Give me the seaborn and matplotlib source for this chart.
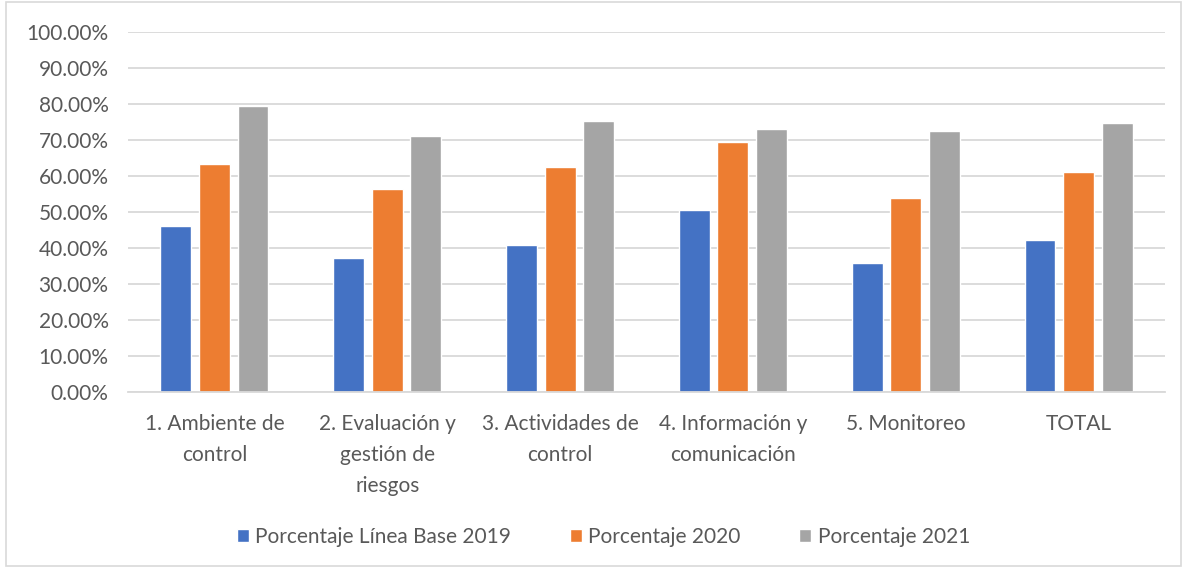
import matplotlib
matplotlib.use("Agg")
import matplotlib.pyplot as plt
import matplotlib.patches as mpatches
from matplotlib.ticker import FuncFormatter
import seaborn as sns
import pandas as pd

categorias = ["1. Ambiente de\ncontrol", "2. Evaluación y\ngestión de\nriesgos",
              "3. Actividades de\ncontrol", "4. Información y\ncomunicación",
              "5. Monitoreo", "TOTAL"]
series = ["Porcentaje Línea Base 2019", "Porcentaje 2020", "Porcentaje 2021"]
base_2019 = [46.2, 37.3, 40.9, 50.5, 35.8, 42.1]
pct_2020 = [63.2, 56.4, 62.6, 69.4, 53.9, 61.0]
pct_2021 = [79.5, 71.0, 75.2, 73.1, 72.5, 74.7]
colores = ["#4472C4", "#ED7D31", "#A5A5A5"]

filas = []
for serie, valores in zip(series, [base_2019, pct_2020, pct_2021]):
    for cat, v in zip(categorias, valores):
        filas.append({"categoria": cat, "serie": serie, "valor": v})
df = pd.DataFrame(filas)

sns.set_theme(style="white")
plt.rcParams["font.family"] = ["Lato", "DejaVu Sans"]
texto = "#595959"

fig = plt.figure(figsize=(11.83, 5.68), dpi=100)
ax = fig.add_axes([0.1082, 0.3099, 0.8766, 0.6338])

sns.barplot(data=df, x="categoria", y="valor", hue="serie", palette=colores,
            width=0.67, gap=0.2, saturation=1, ax=ax, errorbar=None)

ax.set_ylim(0, 100)
ax.set_xlim(-0.5, 5.5)
ax.set_yticks(range(0, 101, 10))
ax.yaxis.set_major_formatter(FuncFormatter(lambda v, p: f"{v:.2f}%"))
ax.grid(axis="y", color="#d9d9d9", linewidth=1.3)
ax.set_axisbelow(True)
for s in ["top", "right", "left"]:
    ax.spines[s].set_visible(False)
ax.spines["bottom"].set_color("#d9d9d9")
ax.spines["bottom"].set_linewidth(1.3)
ax.set_xlabel("")
ax.set_ylabel("")
ax.tick_params(axis="both", length=0, labelsize=15, colors=texto)
ax.tick_params(axis="y", pad=14)
ax.tick_params(axis="x", pad=16)
for lbl in ax.get_xticklabels():
    lbl.set_linespacing(1.68)
    lbl.set_verticalalignment("top")

handles, labels = ax.get_legend_handles_labels()
ax.legend_.remove()
fig.legend(handles, labels, loc="center", bbox_to_anchor=(0.51, 0.055), ncol=3,
           frameon=False, fontsize=15, handlelength=0.6, handleheight=0.6,
           handletextpad=0.3, columnspacing=2.8, labelcolor=texto)

fig.patches.append(mpatches.Rectangle((0.005, 0.004), 0.993, 0.993, transform=fig.transFigure,
                                      fill=False, edgecolor="#d9d9d9", linewidth=1.2))

fig.savefig("out.png", dpi=100)
